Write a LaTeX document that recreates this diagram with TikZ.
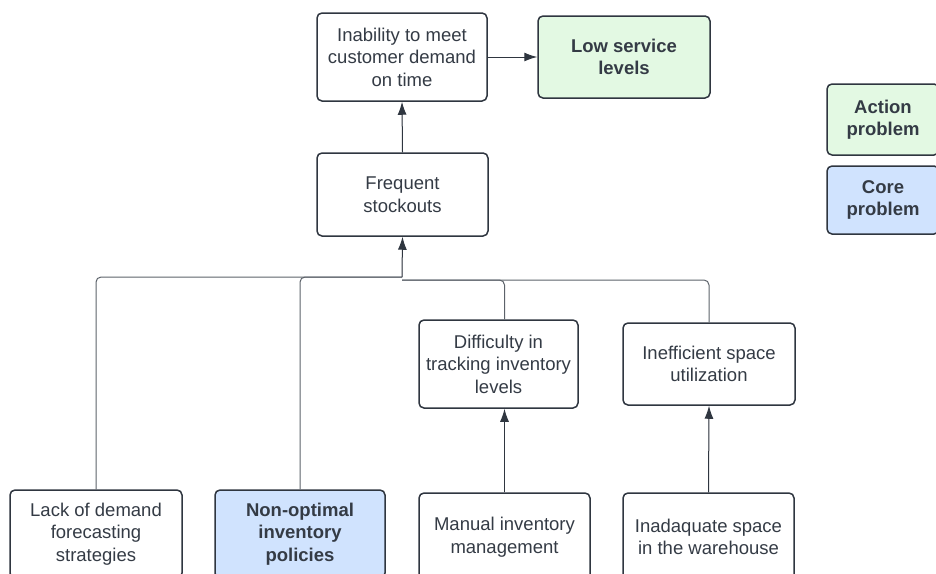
\documentclass[tikz,border=0pt]{standalone}
\usepackage{fontspec}
\setmainfont{Liberation Sans}
\usetikzlibrary{arrows.meta}

\definecolor{boxline}{HTML}{2F3640}
\definecolor{boxtext}{HTML}{343B45}
\definecolor{linkline}{HTML}{5C626A}
\definecolor{actionfill}{HTML}{E3F9E3}
\definecolor{corefill}{HTML}{D0E3FE}

\tikzset{
    problem/.style={draw=boxline, line width=1.5pt, rounded corners=5pt, fill=white,
        text=boxtext, align=center, inner sep=3pt,
        font=\fontsize{18.5}{22.5}\selectfont},
    action/.style={problem, fill=actionfill, font=\fontsize{18.5}{22.5}\selectfont\bfseries},
    core/.style={problem, fill=corefill, font=\fontsize{18.5}{22.5}\selectfont\bfseries},
    link/.style={draw=linkline, line width=1pt, rounded corners=5pt},
    cause/.style={link, -{Latex[length=13pt,width=9pt]}, draw=boxline, fill=boxline},
}

\begin{document}
\begin{tikzpicture}[x=1pt, y=-1pt]
    \useasboundingbox (0,0) rectangle (936,573);

    % effects
    \node[problem, minimum width=170pt, minimum height=88pt] (inability) at (402,57)
        {Inability to meet\\customer demand\\on time};
    \node[action, minimum width=172pt, minimum height=82pt] (lowservice) at (624,57)
        {Low service\\levels};
    \node[problem, minimum width=171pt, minimum height=83pt] (stockouts) at (402.5,194.5)
        {Frequent\\stockouts};

    % intermediate causes
    \node[problem, minimum width=159pt, minimum height=88pt] (tracking) at (498.5,364)
        {Difficulty in\\tracking inventory\\levels};
    \node[problem, minimum width=172pt, minimum height=82pt] (space) at (709,364)
        {Inefficient space\\utilization};

    % root causes
    \node[problem, minimum width=172pt, minimum height=88pt] (forecast) at (96,534)
        {Lack of demand\\forecasting\\strategies};
    \node[core, minimum width=170pt, minimum height=88pt] (policies) at (300,534)
        {Non-optimal\\inventory\\policies};
    \node[problem, minimum width=171pt, minimum height=88pt] (manual) at (504.5,537)
        {Manual inventory\\management};
    \node[problem, minimum width=171pt, minimum height=88pt] (warehouse) at (708.5,537)
        {Inadaquate space\\in the warehouse};

    % legend
    \node[action, minimum width=112pt, minimum height=71pt] (legendaction) at (883,119.5)
        {Action\\problem};
    \node[core, minimum width=112pt, minimum height=68pt] (legendcore) at (883,200)
        {Core\\problem};

    % connectors
    \coordinate (joinleft) at (402,277);
    \coordinate (joinright) at (402,280);
    \draw[link] (forecast.north) |- (joinleft);
    \draw[link] (policies.north) |- (joinleft);
    \draw[link] (manual.north |- tracking.north) |- (joinright);
    \draw[link] (space.north) |- (joinright);
    \draw[cause] (joinleft) -- (stockouts.south);
    \draw[cause] (manual.north) -- (manual.north |- tracking.south);
    \draw[cause] (warehouse.north) -- (space.south);
    \draw[cause] (stockouts.north) -- (inability.south);
    \draw[cause] (inability.east) -- (lowservice.west);
\end{tikzpicture}
\end{document}
